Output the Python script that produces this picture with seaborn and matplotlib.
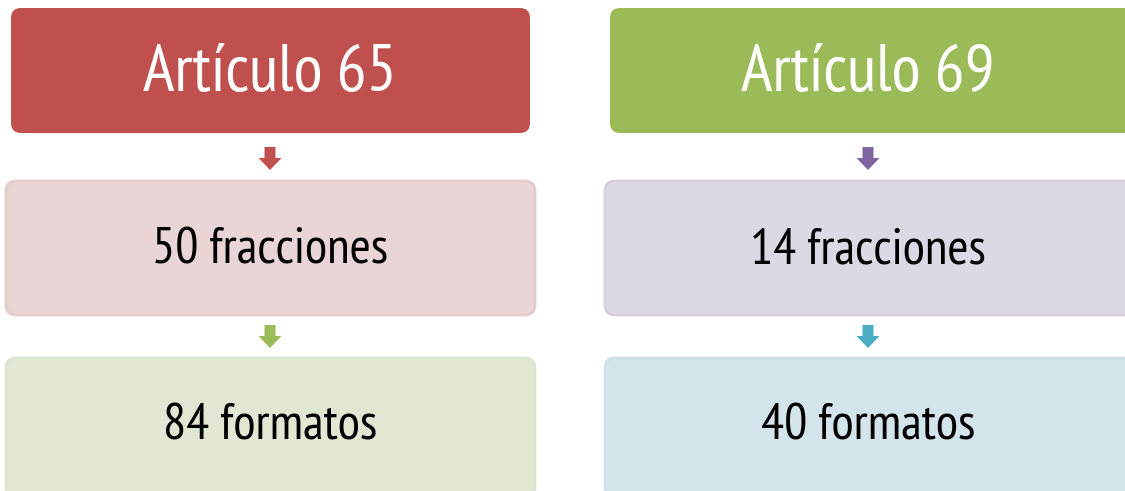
import matplotlib
matplotlib.use("Agg")
import matplotlib.pyplot as plt
from matplotlib.patches import FancyBboxPatch, Polygon
import seaborn as sns

# ------------------------
# Contenido del diagrama
# ------------------------
HEADERS = ["Artículo 65", "Artículo 69"]
FRACCIONES = ["50 fracciones", "14 fracciones"]
FORMATOS = ["84 formatos", "40 formatos"]

HEADER_COLORS = ["#C0504D", "#9BBB59"]
MID_COLORS = ["#E9D5D5", "#DCD8E4"]
MID_EDGES = ["#E6CBCB", "#D6D1DF"]
LOW_COLORS = ["#E0E8D4", "#D4E4EB"]
LOW_EDGES = ["#DCE5CF", "#CFE0E8"]
ARROW1_COLORS = ["#C0504D", "#8064A2"]
ARROW2_COLORS = ["#9BBB59", "#4BACC6"]

sns.set_theme(style="white")
plt.rcParams["font.family"] = ["PT Sans Narrow", "Liberation Sans", "DejaVu Sans"]

W, H = 1125, 491
fig = plt.figure(figsize=(W / 100, H / 100), dpi=100)
ax = fig.add_axes([0, 0, 1, 1])
ax.set_xlim(0, W)
ax.set_ylim(H, 0)
ax.axis("off")

# columnas: (x izquierda, ancho) para cada nivel
COLS = [
    {"top": (11, 519), "box": (6, 529), "cx": 270},
    {"top": (610, 530), "box": (605, 535), "cx": 868},
]


def rbox(x, y, w, h, fc, ec=None, lw=0):
    p = FancyBboxPatch((x, y), w, h, boxstyle="round,pad=0,rounding_size=10",
                       fc=fc, ec=ec if ec else fc, lw=lw, zorder=2)
    ax.add_patch(p)


def down_arrow(cx, y0, color):
    sw, hw = 5.5, 11.5
    pts = [(cx - sw, y0), (cx + sw, y0), (cx + sw, y0 + 11), (cx + hw, y0 + 11),
           (cx, y0 + 23), (cx - hw, y0 + 11), (cx - sw, y0 + 11)]
    ax.add_patch(Polygon(pts, closed=True, fc=color, ec="none", zorder=3))


for i, col in enumerate(COLS):
    tx, tw = col["top"]
    bx, bw = col["box"]
    cx = col["cx"]

    rbox(tx, 8, tw, 125, HEADER_COLORS[i])
    ax.text(cx, 91, HEADERS[i], color="white", fontsize=48,
            ha="center", va="baseline", zorder=4)

    down_arrow(cx, 147, ARROW1_COLORS[i])

    rbox(bx, 181, bw, 134, MID_COLORS[i], MID_EDGES[i], 2)
    ax.text(cx, 263, FRACCIONES[i], color="black", fontsize=37,
            ha="center", va="baseline", zorder=4)

    down_arrow(cx, 325, ARROW2_COLORS[i])

    rbox(bx, 358, bw, 140, LOW_COLORS[i], LOW_EDGES[i], 2)
    ax.text(cx, 440, FORMATOS[i], color="black", fontsize=37,
            ha="center", va="baseline", zorder=4)

fig.savefig("out.png", dpi=100)
